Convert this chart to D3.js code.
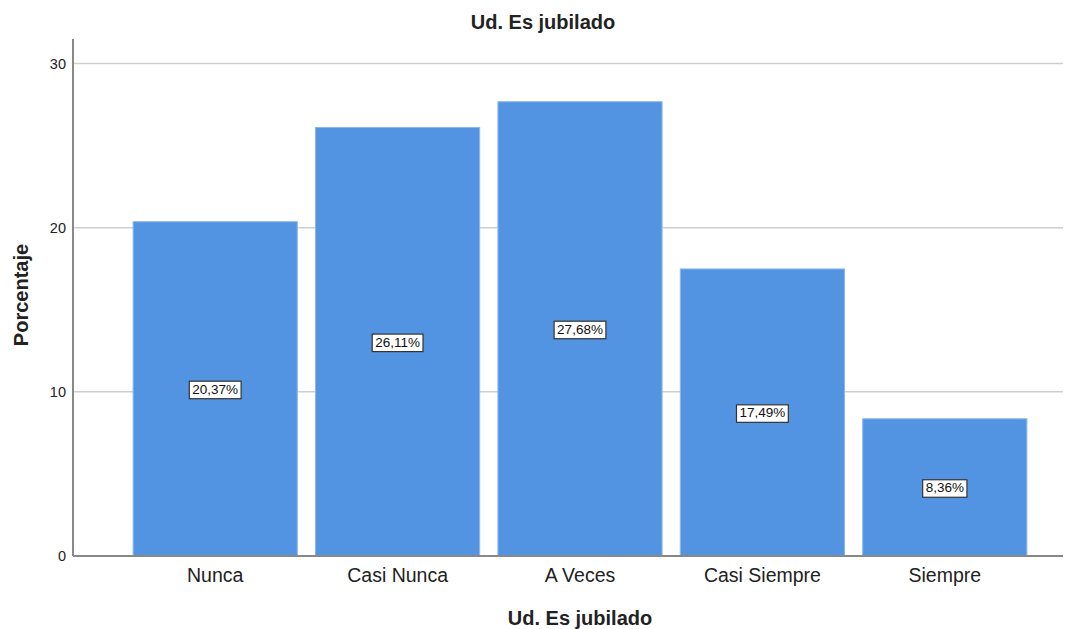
<!DOCTYPE html>
<html><head><meta charset="utf-8">
<script src="https://cdn.jsdelivr.net/npm/d3@7"></script>
<style>body{margin:0;background:#fff;}svg{display:block;font-family:Arial,"Liberation Sans",sans-serif;}</style>
</head><body>
<svg id="c" width="1075" height="629"></svg>
<script>
const categories = ["Nunca","Casi Nunca","A Veces","Casi Siempre","Siempre"];
const values = [20.37, 26.11, 27.68, 17.49, 8.36];
const labels = ["20,37%","26,11%","27,68%","17,49%","8,36%"];
const yTicks = [0,10,20,30];
const title = "Ud. Es jubilado";
const xTitle = "Ud. Es jubilado";
const yTitle = "Porcentaje";

const svg = d3.select("#c");
const x = d3.scaleBand().domain(categories).range([124,1036]).paddingInner(0.1).paddingOuter(0.05);
const y = d3.scaleLinear().domain([0,31.5]).range([556,39]);
const left = 73, right = 1063;

// grid
svg.append("g").selectAll("line").data(yTicks.filter(d=>d>0)).join("line")
  .attr("x1",left).attr("x2",right).attr("y1",d=>y(d)).attr("y2",d=>y(d))
  .attr("stroke","#cfcfcf").attr("stroke-width",1.5);

// bars
svg.append("g").selectAll("rect").data(values).join("rect")
  .attr("x",(d,i)=>x(categories[i])).attr("width",x.bandwidth())
  .attr("y",d=>y(d)).attr("height",d=>y(0)-y(d))
  .attr("fill","#5394e2").attr("stroke","#8ab6ec").attr("stroke-width",1);

// axes
const yAxis = svg.append("g").attr("transform",`translate(${left},0)`)
  .call(d3.axisLeft(y).tickValues(yTicks).tickSize(0).tickPadding(7));
yAxis.select(".domain").remove();
yAxis.selectAll("text").attr("font-size",14.5).attr("fill","#222").attr("font-family","Arial,'Liberation Sans',sans-serif");
svg.append("line").attr("x1",left).attr("x2",left).attr("y1",39).attr("y2",y(0)).attr("stroke","#888").attr("stroke-width",2);
svg.append("line").attr("x1",left).attr("x2",right).attr("y1",y(0)).attr("y2",y(0)).attr("stroke","#888").attr("stroke-width",2);

const xAxis = svg.append("g").attr("transform",`translate(0,${y(0)})`)
  .call(d3.axisBottom(x).tickSize(0).tickPadding(12));
xAxis.select(".domain").remove();
xAxis.selectAll("text").attr("font-size",19.5).attr("fill","#222").attr("font-family","Arial,'Liberation Sans',sans-serif");

// value labels
const lg = svg.append("g").selectAll("g").data(values).join("g")
  .attr("transform",(d,i)=>`translate(${x(categories[i])+x.bandwidth()/2},${y(d/2)})`);
lg.append("text").text((d,i)=>labels[i]).attr("text-anchor","middle").attr("dy","0.36em")
  .attr("font-size",13.5).attr("fill","#111");
lg.each(function(){
  const g = d3.select(this); const b = g.select("text").node().getBBox();
  g.insert("rect","text").attr("x",b.x-3).attr("y",b.y-0.5).attr("width",b.width+6).attr("height",b.height+2.5)
   .attr("fill","#fff").attr("stroke","#333").attr("stroke-width",1.2);
});

// titles
svg.append("text").attr("x",543).attr("y",29).attr("text-anchor","middle").attr("font-size",20).attr("font-weight","bold").attr("fill","#222").text(title);
svg.append("text").attr("x",580).attr("y",625).attr("text-anchor","middle").attr("font-size",20).attr("font-weight","bold").attr("fill","#222").text(xTitle);
svg.append("text").attr("transform","translate(28,295) rotate(-90)").attr("text-anchor","middle").attr("font-size",20).attr("font-weight","bold").attr("fill","#222").text(yTitle);
</script>
</body></html>
